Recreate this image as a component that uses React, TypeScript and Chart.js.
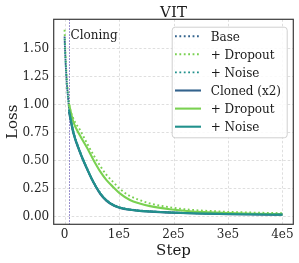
import React, { useEffect, useRef } from "react";
import { Chart, registerables } from "chart.js";

Chart.register(...registerables);

const baseSteps = [0, 1000, 2000, 3000, 4000, 6000, 8000, 16000, 28000, 41000, 53000, 65000, 77000, 90000, 102000, 120000, 138000, 157000, 193000, 230000, 266000, 300000, 350000, 400000];
const baseLoss = [1.6, 1.47, 1.36, 1.27, 1.19, 1.08, 0.97, 0.75, 0.575, 0.425, 0.3, 0.205, 0.14, 0.097, 0.075, 0.058, 0.048, 0.041, 0.032, 0.026, 0.022, 0.019, 0.016, 0.013];
const baseDropoutLoss = [1.66, 1.52, 1.41, 1.31, 1.23, 1.11, 1.01, 0.87, 0.77, 0.65, 0.545, 0.45, 0.366, 0.3, 0.24, 0.178, 0.142, 0.112, 0.078, 0.056, 0.045, 0.037, 0.03, 0.025];
const baseNoiseLoss = [1.58, 1.45, 1.35, 1.26, 1.18, 1.07, 0.97, 0.76, 0.58, 0.43, 0.305, 0.21, 0.143, 0.1, 0.077, 0.059, 0.049, 0.042, 0.033, 0.027, 0.022, 0.019, 0.016, 0.013];

const clonedSteps = [8000, 16000, 28000, 41000, 53000, 65000, 77000, 90000, 102000, 120000, 138000, 157000, 193000, 230000, 266000, 300000, 350000, 400000];
const clonedLoss = [0.93, 0.74, 0.57, 0.42, 0.3, 0.2, 0.135, 0.094, 0.072, 0.055, 0.045, 0.039, 0.03, 0.024, 0.02, 0.017, 0.014, 0.012];
const clonedDropoutLoss = [1.0, 0.84, 0.72, 0.61, 0.5, 0.4, 0.32, 0.255, 0.2, 0.143, 0.112, 0.088, 0.06, 0.042, 0.033, 0.026, 0.02, 0.016];
const clonedNoiseLoss = [0.95, 0.75, 0.575, 0.425, 0.3, 0.205, 0.138, 0.096, 0.074, 0.056, 0.046, 0.04, 0.031, 0.025, 0.021, 0.018, 0.015, 0.012];

const cloneStep = 8000;
const xTicks = [0, 100000, 200000, 300000, 400000];
const xTickLabels = ["0", "1e5", "2e5", "3e5", "4e5"];
const yTicks = [0, 0.25, 0.5, 0.75, 1.0, 1.25, 1.5];
const yTickLabels = ["0.00", "0.25", "0.50", "0.75", "1.00", "1.25", "1.50"];

const seriesLabels = ["Base", "+ Dropout", "+ Noise", "Cloned (x2)", "+ Dropout", "+ Noise"];
const BLUE = "#33638d";
const GREEN = "#7ad151";
const TEAL = "#21918c";

const FONT = "'DejaVu Serif', serif";

function pts(xs: number[], ys: number[]) {
  return xs.map((x, i) => ({ x, y: ys[i] }));
}

export default function App() {
  const ref = useRef<HTMLCanvasElement | null>(null);

  useEffect(() => {
    const canvas = ref.current;
    if (!canvas) return;

    const dotted = [1.8, 2.6];
    const mk = (label: string, data: any, color: string, dash: number[], idx: number) => ({
      label,
      data,
      borderColor: color,
      backgroundColor: color,
      borderWidth: dash.length ? 1.9 : 2.1,
      borderDash: dash,
      borderCapStyle: "butt" as const,
      pointRadius: 0,
      fill: false,
      cubicInterpolationMode: "monotone" as const,
      order: 5 - idx,
    });

    const datasets = [
      mk(seriesLabels[0], pts(baseSteps, baseLoss), BLUE, dotted, 0),
      mk(seriesLabels[1], pts(baseSteps, baseDropoutLoss), GREEN, dotted, 1),
      mk(seriesLabels[2], pts(baseSteps, baseNoiseLoss), TEAL, dotted, 2),
      mk(seriesLabels[3], pts(clonedSteps, clonedLoss), BLUE, [], 3),
      mk(seriesLabels[4], pts(clonedSteps, clonedDropoutLoss), GREEN, [], 4),
      mk(seriesLabels[5], pts(clonedSteps, clonedNoiseLoss), TEAL, [], 5),
    ];

    const decor = {
      id: "decor",
      beforeDatasetsDraw(chart: any) {
        const { ctx, chartArea: a, scales } = chart;
        const xs = scales.x, ys = scales.y;
        ctx.save();
        ctx.strokeStyle = "#d6d6d6";
        ctx.lineWidth = 0.8;
        ctx.setLineDash([2.5, 2]);
        xTicks.forEach((v) => {
          const px = Math.round(xs.getPixelForValue(v)) + 0.5;
          ctx.beginPath();
          ctx.moveTo(px, a.top);
          ctx.lineTo(px, a.bottom);
          ctx.stroke();
        });
        yTicks.forEach((v) => {
          const py = Math.round(ys.getPixelForValue(v)) + 0.5;
          ctx.beginPath();
          ctx.moveTo(a.left, py);
          ctx.lineTo(a.right, py);
          ctx.stroke();
        });
        ctx.strokeStyle = "#7b6fbf";
        ctx.lineWidth = 1;
        ctx.setLineDash([1.5, 1.5]);
        const cx = Math.round(xs.getPixelForValue(cloneStep)) + 0.5;
        ctx.beginPath();
        ctx.moveTo(cx, a.top);
        ctx.lineTo(cx, a.bottom);
        ctx.stroke();
        ctx.restore();
      },
      afterDraw(chart: any) {
        const { ctx, chartArea: a, scales } = chart;
        const xs = scales.x, ys = scales.y;
        ctx.save();
        ctx.setLineDash([]);
        ctx.strokeStyle = "#3a3a3a";
        ctx.lineWidth = 1.2;
        ctx.strokeRect(a.left, a.top, a.right - a.left, a.bottom - a.top);

        ctx.fillStyle = "#262626";
        ctx.font = `12px ${FONT}`;
        ctx.textBaseline = "alphabetic";
        ctx.textAlign = "right";
        yTicks.forEach((v, i) => {
          ctx.fillText(yTickLabels[i], a.left - 4.5, ys.getPixelForValue(v) + 4.3);
        });
        ctx.textAlign = "center";
        xTicks.forEach((v, i) => {
          ctx.fillText(xTickLabels[i], xs.getPixelForValue(v), 238.3);
        });

        ctx.fillStyle = "#1a1a1a";
        ctx.textAlign = "left";
        const cx = xs.getPixelForValue(cloneStep);
        ctx.fillText("Cloning", cx + 1.5, 39.3);

        ctx.font = `15px ${FONT}`;
        ctx.textAlign = "center";
        ctx.fillText("VIT", (a.left + a.right) / 2, 16.7);
        ctx.fillText("Step", (a.left + a.right) / 2, 254.5);
        ctx.save();
        ctx.translate(16.9, (a.top + a.bottom) / 2);
        ctx.rotate(-Math.PI / 2);
        ctx.fillText("Loss", 0, 0);
        ctx.restore();

        const lx = 171.7, ly = 26.7, lw = 115, lh = 110.6;
        ctx.fillStyle = "rgba(255,255,255,0.85)";
        ctx.strokeStyle = "#d0d0d0";
        ctx.lineWidth = 1;
        ctx.beginPath();
        (ctx as any).roundRect(lx + 0.5, ly + 0.5, lw, lh, 3);
        ctx.fill();
        ctx.stroke();
        ctx.font = `12px ${FONT}`;
        ctx.textAlign = "left";
        chart.data.datasets.forEach((ds: any, i: number) => {
          const cy = 36.2 + i * 18.1;
          ctx.strokeStyle = ds.borderColor;
          ctx.lineWidth = ds.borderWidth;
          ctx.setLineDash(ds.borderDash || []);
          ctx.beginPath();
          ctx.moveTo(175, cy);
          ctx.lineTo(201, cy);
          ctx.stroke();
          ctx.setLineDash([]);
          ctx.fillStyle = "#1a1a1a";
          ctx.fillText(ds.label, 210.7, cy + 4.4);
        });
        ctx.restore();
      },
    };

    const chart = new Chart(canvas, {
      type: "line",
      data: { datasets },
      options: {
        animation: false,
        responsive: false,
        maintainAspectRatio: false,
        parsing: false as any,
        layout: { padding: { left: 0, right: 5.7, top: 19.3, bottom: 0 } },
        plugins: { legend: { display: false }, tooltip: { enabled: false }, title: { display: false } },
        scales: {
          x: {
            type: "linear",
            min: -20000,
            max: 420000,
            grid: { display: false, drawTicks: false },
            border: { display: false },
            ticks: { display: false },
            afterFit: (s: any) => {
              s.height = 263 - 224.3;
            },
          },
          y: {
            type: "linear",
            min: -0.074,
            max: 1.754,
            grid: { display: false, drawTicks: false },
            border: { display: false },
            ticks: { display: false },
            afterFit: (s: any) => {
              s.width = 53.7;
            },
          },
        },
      },
      plugins: [decor],
    });

    return () => chart.destroy();
  }, []);

  return (
    <div style={{ position: "fixed", left: 0, top: 0, width: 299, height: 263, background: "#fff" }}>
      <canvas ref={ref} width={299} height={263} style={{ width: 299, height: 263, display: "block" }} />
    </div>
  );
}
